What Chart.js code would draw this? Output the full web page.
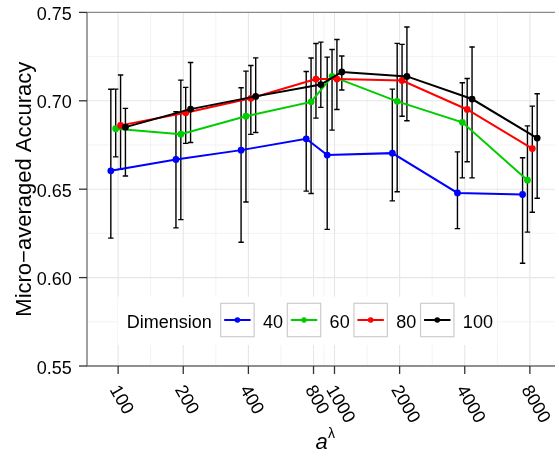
<!DOCTYPE html>
<html><head><meta charset="utf-8">
<script src="https://cdn.jsdelivr.net/npm/chart.js@4.4.1/dist/chart.umd.min.js"></script>
<style>html,body{margin:0;padding:0;background:#fff}#wrap{width:559px;height:460px}</style>
</head><body><div id="wrap"><canvas id="c" width="559" height="460"></canvas></div>
<script>
// ---- data ----
const aLambda = [100, 200, 400, 800, 1000, 2000, 4000, 8000];
const xTickLabels = ['100', '200', '400', '800', '1000', '2000', '4000', '8000'];
const yTicks = [0.55, 0.60, 0.65, 0.70, 0.75];
const yTickLabels = ['0.55', '0.60', '0.65', '0.70', '0.75'];
const dimensions = ['40', '60', '80', '100'];

const acc40  = [0.6604, 0.6668, 0.6721, 0.6785, 0.6693, 0.6704, 0.6479, 0.6470];
const lo40   = [0.6223, 0.6281, 0.6200, 0.6489, 0.6273, 0.6434, 0.6277, 0.6081];
const hi40   = [0.7065, 0.6938, 0.7074, 0.7166, 0.7247, 0.7066, 0.6711, 0.6678];

const acc60  = [0.6842, 0.6811, 0.6913, 0.6994, 0.7138, 0.6997, 0.6878, 0.6551];
const lo60   = [0.6683, 0.6328, 0.6428, 0.6476, 0.6834, 0.6486, 0.6564, 0.6257];
const hi60   = [0.7066, 0.7117, 0.7168, 0.7242, 0.7290, 0.7325, 0.7102, 0.6858];

const acc80  = [0.6861, 0.6932, 0.7014, 0.7123, 0.7123, 0.7115, 0.6951, 0.6730];
const lo80   = [0.6612, 0.6759, 0.6810, 0.6902, 0.6951, 0.6913, 0.6655, 0.6370];
const hi80   = [0.7146, 0.7076, 0.7200, 0.7324, 0.7347, 0.7319, 0.7126, 0.6970];

const acc100 = [0.6851, 0.6953, 0.7025, 0.7092, 0.7163, 0.7138, 0.7010, 0.6789];
const lo100  = [0.6575, 0.6764, 0.6821, 0.6963, 0.7061, 0.6887, 0.6564, 0.6449];
const hi100  = [0.6957, 0.7217, 0.7243, 0.7332, 0.7253, 0.7417, 0.7304, 0.7040];

// ---- style / layout ----
const colors = ['#0000ff', '#00cd00', '#ff0000', '#000000'];
const dodgeLog10 = [-0.03375, -0.01125, 0.01125, 0.03375]; // position_dodge offsets (log10 units)
const FONT = '"Liberation Sans", Arial, Helvetica, sans-serif';

const accs = [acc40, acc60, acc80, acc100];
const los = [lo40, lo60, lo80, lo100];
const his = [hi40, hi60, hi80, hi100];

const datasets = dimensions.map((d, s) => ({
  label: d,
  data: aLambda.map((a, i) => ({ x: a * Math.pow(10, dodgeLog10[s]), y: accs[s][i] })),
  borderColor: colors[s],
  backgroundColor: colors[s],
  pointBackgroundColor: colors[s],
  pointBorderWidth: 0,
  pointRadius: 3.4,
  borderWidth: 2,
  tension: 0,
  fill: false,
  order: dimensions.length - s
}));

const deco = {
  id: 'deco',
  beforeDatasetsDraw(chart) {
    const ctx = chart.ctx, ca = chart.chartArea;
    const xs = chart.scales.x, ys = chart.scales.y;
    ctx.save();
    ctx.beginPath(); ctx.rect(ca.left, ca.top, ca.right - ca.left, ca.bottom - ca.top); ctx.clip();
    // minor grid
    ctx.strokeStyle = '#f3f3f3'; ctx.lineWidth = 1;
    for (let i = 0; i < aLambda.length - 1; i++) {
      const px = xs.getPixelForValue(Math.sqrt(aLambda[i] * aLambda[i + 1]));
      ctx.beginPath(); ctx.moveTo(px, ca.top); ctx.lineTo(px, ca.bottom); ctx.stroke();
    }
    for (let i = 0; i < yTicks.length - 1; i++) {
      const py = ys.getPixelForValue((yTicks[i] + yTicks[i + 1]) / 2);
      ctx.beginPath(); ctx.moveTo(ca.left, py); ctx.lineTo(ca.right, py); ctx.stroke();
    }
    // major grid
    ctx.strokeStyle = '#e6e6e6'; ctx.lineWidth = 1.1;
    aLambda.forEach(a => {
      const px = xs.getPixelForValue(a);
      ctx.beginPath(); ctx.moveTo(px, ca.top); ctx.lineTo(px, ca.bottom); ctx.stroke();
    });
    yTicks.forEach(v => {
      const py = ys.getPixelForValue(v);
      ctx.beginPath(); ctx.moveTo(ca.left, py); ctx.lineTo(ca.right, py); ctx.stroke();
    });
    ctx.restore();

    // error bars
    ctx.save();
    ctx.strokeStyle = '#000'; ctx.lineWidth = 1.4;
    chart.data.datasets.forEach((ds, s) => {
      const meta = chart.getDatasetMeta(s);
      meta.data.forEach((el, i) => {
        const x = el.x;
        const yl = ys.getPixelForValue(los[s][i]);
        const yh = ys.getPixelForValue(his[s][i]);
        ctx.beginPath();
        ctx.moveTo(x, yl); ctx.lineTo(x, yh);
        ctx.moveTo(x - 2.7, yl); ctx.lineTo(x + 2.7, yl);
        ctx.moveTo(x - 2.7, yh); ctx.lineTo(x + 2.7, yh);
        ctx.stroke();
      });
    });
    ctx.restore();
  },
  afterDatasetsDraw(chart) {
    const ctx = chart.ctx, ca = chart.chartArea;
    const xs = chart.scales.x, ys = chart.scales.y;
    ctx.save();
    // panel border / axes
    ctx.strokeStyle = '#8a8a8a'; ctx.lineWidth = 1.3;
    ctx.beginPath(); ctx.moveTo(ca.left, ca.top); ctx.lineTo(ca.right, ca.top); ctx.stroke();
    ctx.strokeStyle = '#6e6e6e';
    ctx.beginPath(); ctx.moveTo(ca.left, ca.top); ctx.lineTo(ca.left, ca.bottom); ctx.lineTo(ca.right, ca.bottom); ctx.stroke();
    // ticks
    ctx.strokeStyle = '#333'; ctx.lineWidth = 1.3;
    aLambda.forEach(a => {
      const px = xs.getPixelForValue(a);
      ctx.beginPath(); ctx.moveTo(px, ca.bottom); ctx.lineTo(px, ca.bottom + 8); ctx.stroke();
    });
    yTicks.forEach(v => {
      const py = ys.getPixelForValue(v);
      ctx.beginPath(); ctx.moveTo(ca.left - 8, py); ctx.lineTo(ca.left, py); ctx.stroke();
    });
    // y tick labels
    ctx.fillStyle = '#000';
    ctx.font = '18px ' + FONT;
    ctx.textAlign = 'right'; ctx.textBaseline = 'alphabetic';
    yTicks.forEach((v, i) => {
      ctx.fillText(yTickLabels[i], ca.left - 15.3, ys.getPixelForValue(v) + 7.5);
    });
    // x tick labels rotated
    ctx.textAlign = 'left'; ctx.textBaseline = 'middle';
    aLambda.forEach((a, i) => {
      const px = xs.getPixelForValue(a);
      ctx.save();
      ctx.translate(px - 4.5, ca.bottom + 21);
      ctx.rotate(60 * Math.PI / 180);
      ctx.fillText(xTickLabels[i], 0, 0);
      ctx.restore();
    });
    // y title
    ctx.save();
    ctx.font = '22px ' + FONT;
    ctx.translate(31, (ca.top + ca.bottom) / 2);
    ctx.rotate(-Math.PI / 2);
    ctx.textAlign = 'center'; ctx.textBaseline = 'alphabetic';
    ctx.fillText('Micro\u2212averaged Accuracy', 0, 0);
    ctx.restore();
    // x title a^lambda
    ctx.textBaseline = 'alphabetic'; ctx.textAlign = 'left';
    ctx.font = 'italic 22px ' + FONT;
    ctx.fillText('a', 315.5, 449);
    ctx.font = '14px ' + FONT;
    ctx.fillText('\u03bb', 328, 438);

    // legend
    const lx = 117.7, ly = 296.7, lw = 379.3, lh = 48.3;
    ctx.fillStyle = '#fff';
    ctx.fillRect(lx, ly, lw, lh);
    ctx.fillStyle = '#000';
    ctx.font = '18px ' + FONT;
    ctx.fillText('Dimension', 126.7, 328.3);
    let kx = 220.7;
    dimensions.forEach((d, s) => {
      const ky = 303.3, ks = 33.4;
      ctx.fillStyle = '#fff';
      ctx.fillRect(kx, ky, ks, ks);
      ctx.strokeStyle = '#cccccc'; ctx.lineWidth = 1.2;
      ctx.strokeRect(kx, ky, ks, ks);
      const cy = ky + ks / 2;
      ctx.strokeStyle = colors[s]; ctx.lineWidth = 2;
      ctx.beginPath(); ctx.moveTo(kx + 3.5, cy); ctx.lineTo(kx + ks - 3.5, cy); ctx.stroke();
      ctx.fillStyle = colors[s];
      ctx.beginPath(); ctx.arc(kx + ks / 2, cy, 2.8, 0, Math.PI * 2); ctx.fill();
      ctx.fillStyle = '#000';
      const tx = kx + ks + 8.9;
      ctx.fillText(d, tx, 328.3);
      kx = tx + ctx.measureText(d).width + 4.3;
    });
    ctx.restore();
  }
};

new Chart(document.getElementById('c'), {
  type: 'line',
  data: { datasets },
  options: {
    responsive: false,
    animation: false,
    devicePixelRatio: 1,
    layout: { padding: { top: 12.4, right: 0, bottom: 0, left: 0 } },
    plugins: { legend: { display: false }, tooltip: { enabled: false } },
    scales: {
      x: {
        type: 'logarithmic', min: 71.8, max: 10452,
        grid: { display: false }, border: { display: false }, ticks: { display: false },
        afterFit(s) { s.height = 94; }
      },
      y: {
        type: 'linear', min: 0.55, max: 0.75,
        grid: { display: false }, border: { display: false }, ticks: { display: false },
        afterFit(s) { s.width = 87; }
      }
    }
  },
  plugins: [deco]
});
</script>
</body></html>
